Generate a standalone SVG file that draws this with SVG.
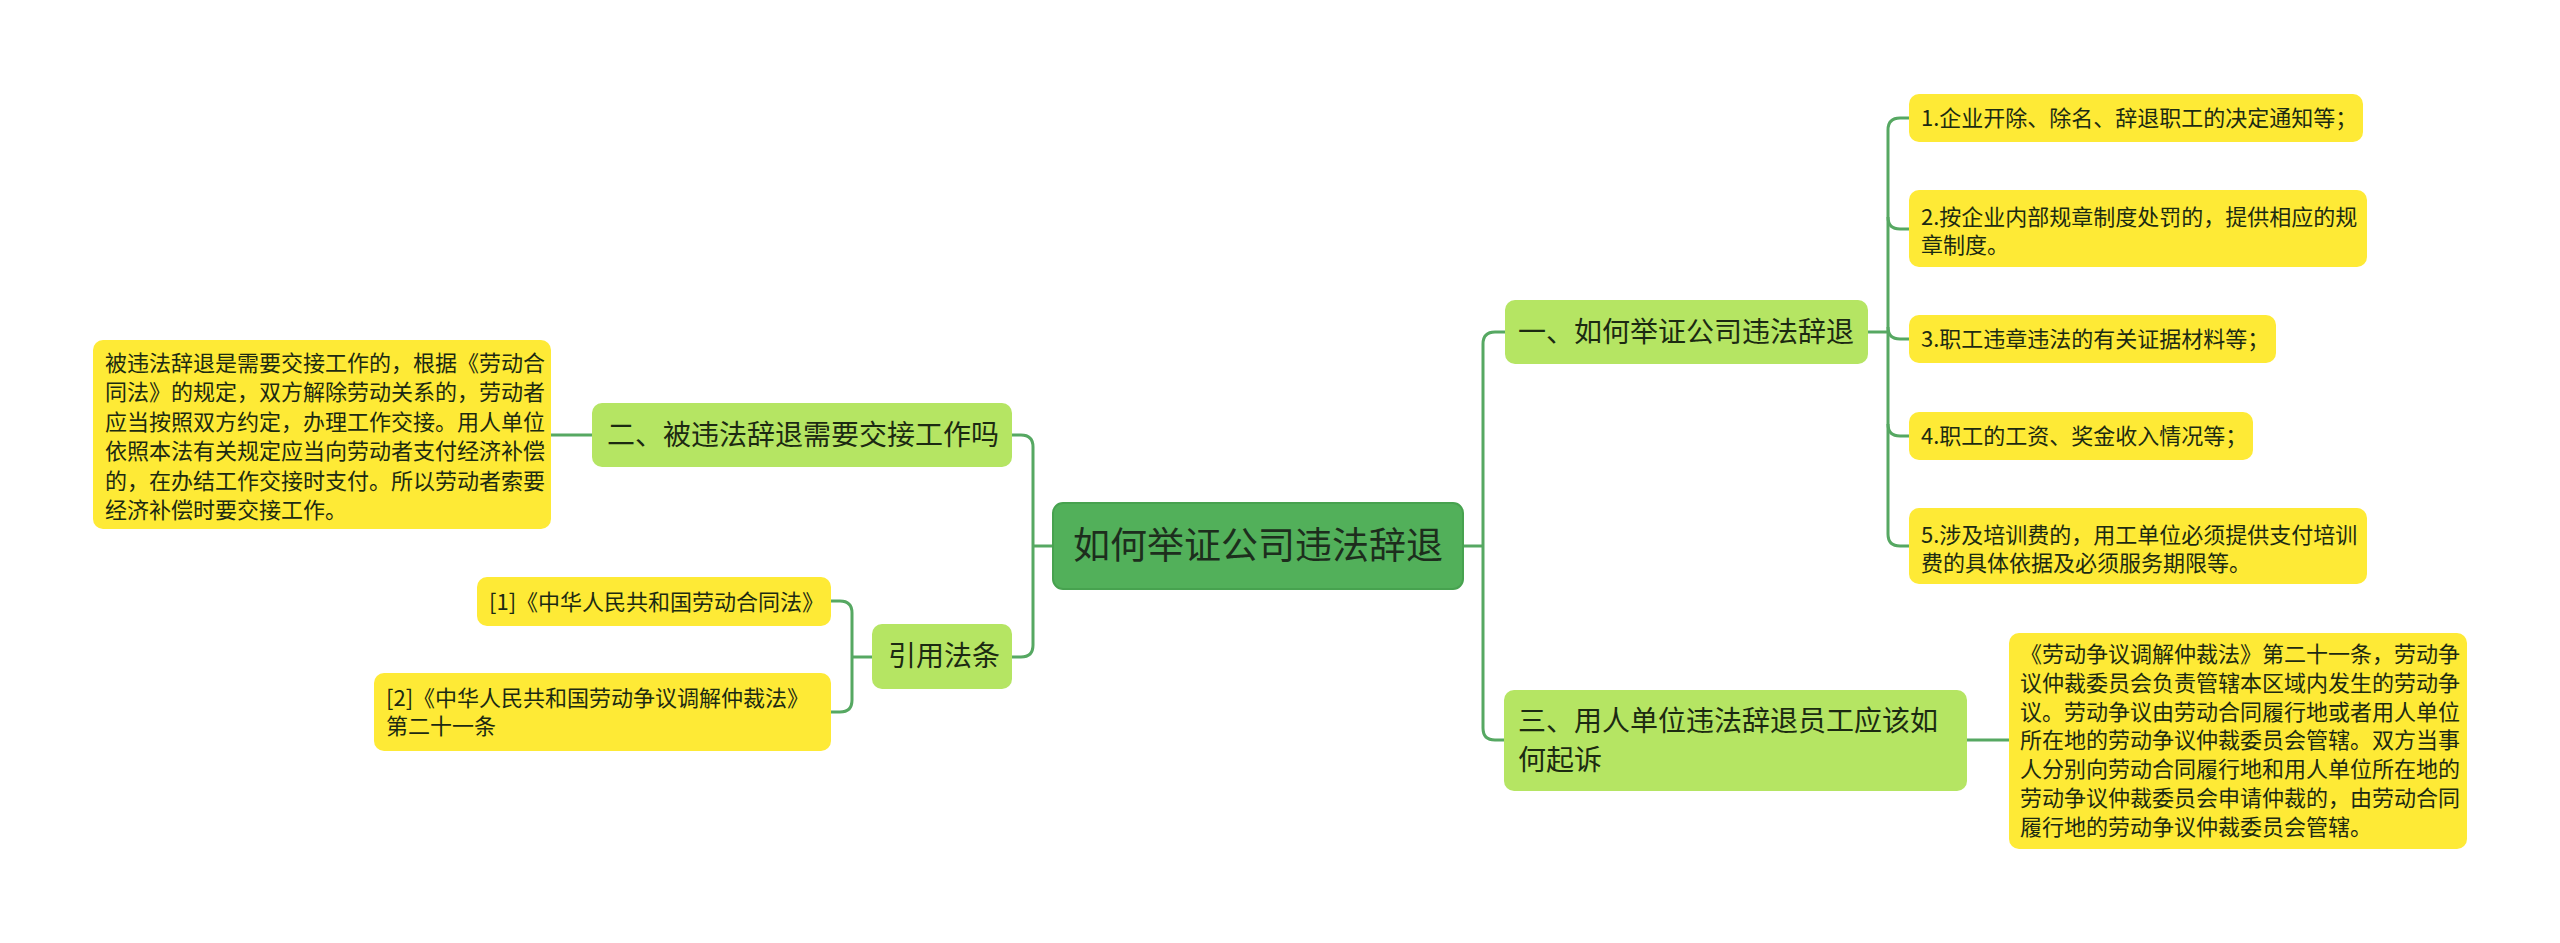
<svg xmlns="http://www.w3.org/2000/svg" width="2560" height="943" viewBox="0 0 2560 943">
<style>
text{font-family:"Noto Sans CJK SC","Noto Sans",sans-serif;fill:#1c2a12}
.root rect{fill:#52b05a;stroke:#47a24f;stroke-width:2}
.root text{font-size:37px;fill:#1d2e1d}
.br rect{fill:#b5e563}
.br text{font-size:28px}
.lf rect{fill:#feea36}
.lf text{font-size:22px}
#connectors path{fill:none;stroke:#56a862;stroke-width:3}
</style>
<rect width="2560" height="943" fill="#ffffff"/>
<g id="connectors">
<path d="M1463,546 H1483"/>
<path d="M1505,332 H1495 Q1483,332 1483,344 V728 Q1483,740 1495,740 H1505"/>
<path d="M1053,546 H1033"/>
<path d="M1012,435 H1021 Q1033,435 1033,447 V645 Q1033,657 1021,657 H1012"/>
<path d="M592,435 H551"/>
<path d="M872,657 H852"/>
<path d="M831,601 H840 Q852,601 852,613 V700 Q852,712 840,712 H831"/>
<path d="M1868,332 H1888"/>
<path d="M1909,118 H1900 Q1888,118 1888,130 V534 Q1888,546 1900,546 H1909"/>
<path d="M1888,217 Q1888,229 1900,229 H1909"/>
<path d="M1888,327 Q1888,339 1900,339 H1909"/>
<path d="M1888,424 Q1888,436 1900,436 H1909"/>
<path d="M1967,740 H2009"/>
</g>
<g id="root" class="root">
<rect x="1053" y="503" width="410" height="86" rx="10"/>
<text x="1258" y="559" text-anchor="middle">如何举证公司违法辞退</text>
</g>
<g id="b2" class="br">
<rect x="592" y="403" width="420" height="64" rx="10"/>
<text x="607" y="445">二、被违法辞退需要交接工作吗</text>
</g>
<g id="b2leaf" class="lf">
<rect x="93" y="340" width="458" height="189" rx="10"/>
<text x="105" y="371">被违法辞退是需要交接工作的，根据《劳动合</text>
<text x="105" y="400">同法》的规定，双方解除劳动关系的，劳动者</text>
<text x="105" y="430">应当按照双方约定，办理工作交接。用人单位</text>
<text x="105" y="459">依照本法有关规定应当向劳动者支付经济补偿</text>
<text x="105" y="489">的，在办结工作交接时支付。所以劳动者索要</text>
<text x="105" y="518">经济补偿时要交接工作。</text>
</g>
<g id="cite" class="br">
<rect x="872" y="624" width="140" height="65" rx="10"/>
<text x="888" y="666">引用法条</text>
</g>
<g id="cite1" class="lf">
<rect x="477" y="577" width="354" height="49" rx="10"/>
<text x="489" y="610">[1]《中华人民共和国劳动合同法》</text>
</g>
<g id="cite2" class="lf">
<rect x="374" y="673" width="457" height="78" rx="10"/>
<text x="386" y="706">[2]《中华人民共和国劳动争议调解仲裁法》</text>
<text x="386" y="734">第二十一条</text>
</g>
<g id="b1" class="br">
<rect x="1505" y="300" width="363" height="64" rx="10"/>
<text x="1518" y="342">一、如何举证公司违法辞退</text>
</g>
<g id="l1" class="lf">
<rect x="1909" y="94" width="454" height="48" rx="10"/>
<text x="1921" y="126">1.企业开除、除名、辞退职工的决定通知等；</text>
</g>
<g id="l2" class="lf">
<rect x="1909" y="190" width="458" height="77" rx="10"/>
<text x="1921" y="225">2.按企业内部规章制度处罚的，提供相应的规</text>
<text x="1921" y="253">章制度。</text>
</g>
<g id="l3" class="lf">
<rect x="1909" y="315" width="367" height="48" rx="10"/>
<text x="1921" y="347">3.职工违章违法的有关证据材料等；</text>
</g>
<g id="l4" class="lf">
<rect x="1909" y="412" width="344" height="48" rx="10"/>
<text x="1921" y="444">4.职工的工资、奖金收入情况等；</text>
</g>
<g id="l5" class="lf">
<rect x="1909" y="508" width="458" height="76" rx="10"/>
<text x="1921" y="543">5.涉及培训费的，用工单位必须提供支付培训</text>
<text x="1921" y="571">费的具体依据及必须服务期限等。</text>
</g>
<g id="b3" class="br">
<rect x="1504" y="690" width="463" height="101" rx="10"/>
<text x="1518" y="731">三、用人单位违法辞退员工应该如</text>
<text x="1518" y="770">何起诉</text>
</g>
<g id="b3leaf" class="lf">
<rect x="2009" y="633" width="458" height="216" rx="10"/>
<text x="2020" y="662">《劳动争议调解仲裁法》第二十一条，劳动争</text>
<text x="2020" y="691">议仲裁委员会负责管辖本区域内发生的劳动争</text>
<text x="2020" y="720">议。劳动争议由劳动合同履行地或者用人单位</text>
<text x="2020" y="748">所在地的劳动争议仲裁委员会管辖。双方当事</text>
<text x="2020" y="777">人分别向劳动合同履行地和用人单位所在地的</text>
<text x="2020" y="806">劳动争议仲裁委员会申请仲裁的，由劳动合同</text>
<text x="2020" y="835">履行地的劳动争议仲裁委员会管辖。</text>
</g>
</svg>
